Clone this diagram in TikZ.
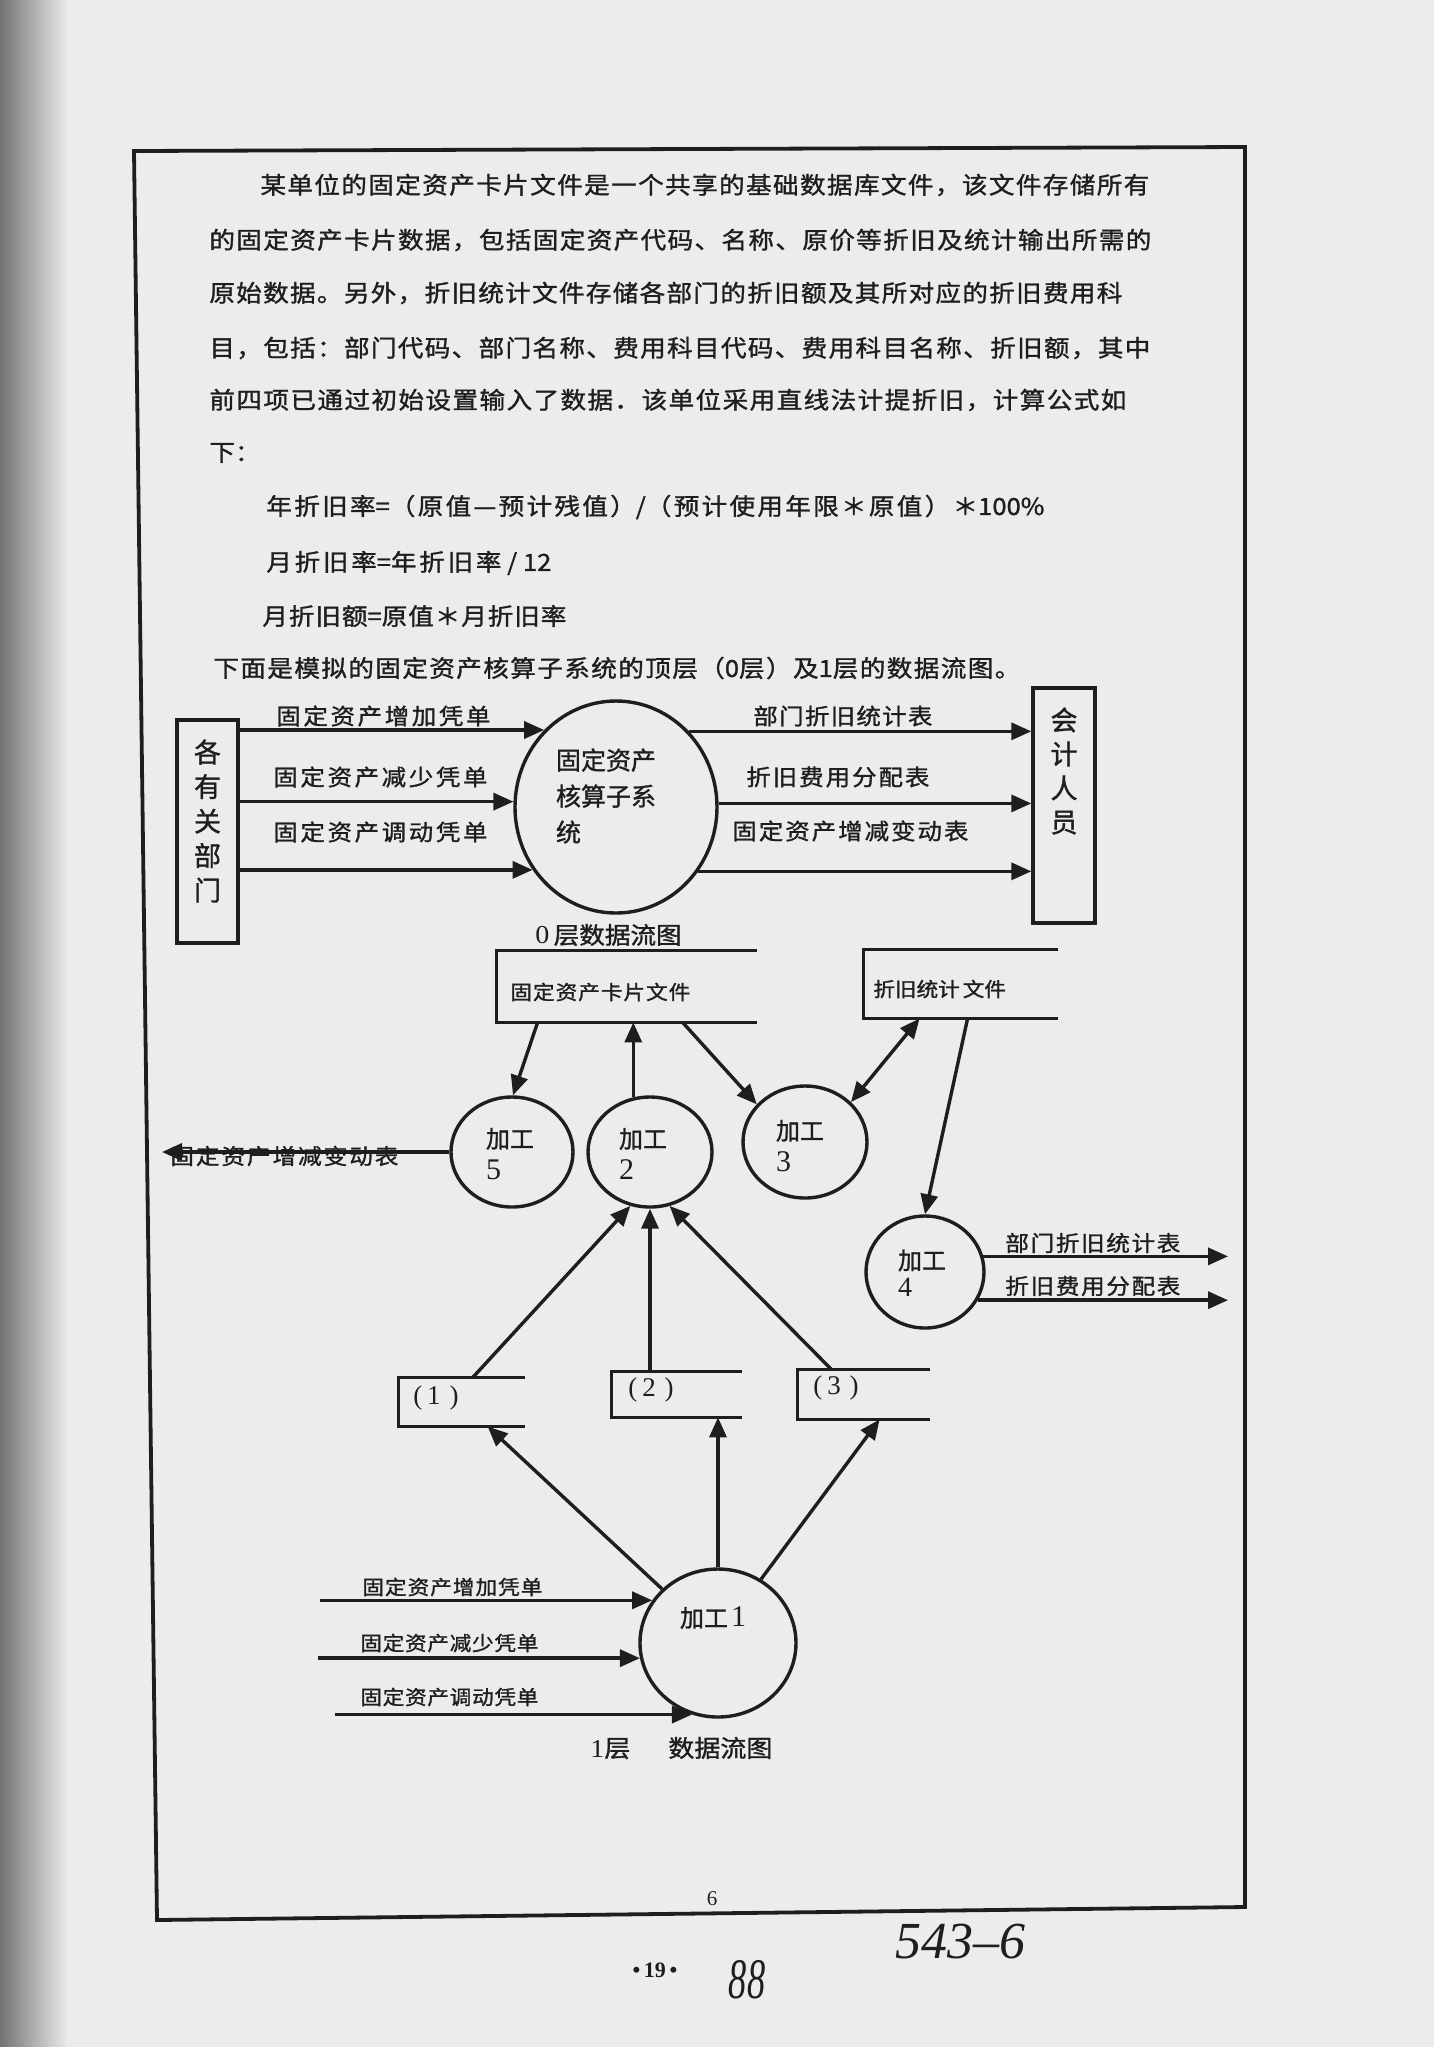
\documentclass[tikz,border=0pt]{standalone}
\usepackage{fontspec}
\usepackage{graphicx}
\setmainfont{Noto Sans CJK SC}[FakeBold=1.2]
\newfontfamily\serifd{Liberation Serif}
\usetikzlibrary{arrows.meta,shapes.geometric,calc}

% stretchable glue between CJK characters, used to justify lines
\chardef\CJKcls=9
\newcount\cjkc
\cjkc="4E00
\loop\XeTeXcharclass\cjkc=\CJKcls \advance\cjkc by 1 \ifnum\cjkc<"A000 \repeat
\cjkc="3000
\loop\XeTeXcharclass\cjkc=\CJKcls \advance\cjkc by 1 \ifnum\cjkc<"3040 \repeat
\cjkc="FF00
\loop\XeTeXcharclass\cjkc=\CJKcls \advance\cjkc by 1 \ifnum\cjkc<"FF60 \repeat
\XeTeXcharclass"2014=\CJKcls
\XeTeXinterchartoks\CJKcls\CJKcls={\hskip 0pt plus 1fil minus 1fil\relax}
\XeTeXinterchartokenstate=1

\definecolor{ink}{RGB}{30,30,30}
\definecolor{paper}{RGB}{236,236,234}
\definecolor{shadow}{RGB}{115,115,115}
\newcommand\fs[1]{\fontsize{#1}{#1}\selectfont}
\newcommand\sq[1]{\scalebox{1}[0.92]{#1}}
\newcommand\jl[2]{\sq{\makebox[#1][s]{#2}}}

\begin{document}
\begin{tikzpicture}[x=0.5pt,y=-0.5pt,
  txt/.style={inner sep=0pt, text=ink, anchor=west},
  body/.style={txt, font=\fs{12.8pt}},
  labA/.style={txt, font=\fs{12.2pt}},
  labB/.style={txt, font=\fs{10.8pt}},
  labC/.style={txt, font=\fs{11.8pt}},
  arr/.style={draw=ink, line width=1.7pt, -{Triangle[length=10pt,width=8.5pt]}},
  dbl/.style={draw=ink, line width=1.7pt, {Triangle[length=10pt,width=8.5pt]}-{Triangle[length=10pt,width=8.5pt]}},
  extbox/.style={draw=ink, line width=1.7pt, rectangle, inner sep=0pt},
  proc/.style={draw=ink, line width=1.7pt, ellipse, inner sep=0pt},
  store/.style={rectangle, inner sep=0pt},
  openside/.style={draw=ink, line width=1.7pt},
  ptext/.style={txt, anchor=center, align=left, font=\fontsize{12pt}{16pt}\selectfont},
  numbox/.style={txt, anchor=center, font=\serifd\fs{13.5pt}},
]
\useasboundingbox (0,0) rectangle (1434,2047);
\fill[paper] (0,0) rectangle (1434,2047);
\shade[left color=shadow, right color=paper] (0,0) rectangle (68,2047);

% page frame
\draw[ink, line width=1.9pt] (134,151) -- (1245,147) -- (1245,1907) -- (157,1920) -- cycle;

% ---------- text ----------
\node[body] (l1) at (260,185) {\jl{444.5pt}{某单位的固定资产卡片文件是一个共享的基础数据库文件，该文件存储所有}};
\node[body] (l2) at (209,240) {\jl{471pt}{的固定资产卡片数据，包括固定资产代码、名称、原价等折旧及统计输出所需的}};
\node[body] (l3) at (209,293) {\jl{456.5pt}{原始数据。另外，折旧统计文件存储各部门的折旧额及其所对应的折旧费用科}};
\node[body] (l4) at (209,348) {\jl{470.5pt}{目，包括：部门代码、部门名称、费用科目代码、费用科目名称、折旧额，其中}};
\node[body] (l5) at (209,400) {\jl{458.5pt}{前四项已通过初始设置输入了数据．该单位采用直线法计提折旧，计算公式如}};
\node[body] (l6) at (209,453) {\sq{下：}};
\node[body] (l7) at (266,507) {\jl{389pt}{年折旧率=（原值—预计残值）/（预计使用年限＊原值）＊100\%}};
\node[body] (l8) at (266,563) {\jl{142.5pt}{月折旧率=年折旧率 / 12}};
\node[body] (l9) at (262,616) {\jl{152pt}{月折旧额=原值＊月折旧率}};
\node[body] (l10) at (213,668) {\jl{403.5pt}{下面是模拟的固定资产核算子系统的顶层（0层）及1层的数据流图。}};

% ---------- level 0 data flow diagram ----------
\node[extbox, minimum width=30.5pt, minimum height=111.5pt] (dept) at (207.5,831.5) {};
\node[txt, anchor=center, align=center, font=\fontsize{13.5pt}{17.25pt}\selectfont] (deptt) at (207.5,821) {各\\有\\关\\部\\门};
\node[extbox, minimum width=31pt, minimum height=117.5pt] (acct) at (1064,805.5) {};
\node[txt, anchor=center, align=center, font=\fontsize{13.5pt}{17pt}\selectfont] (acctt) at (1064,771) {会\\计\\人\\员};
\node[proc, minimum width=101pt, minimum height=106pt] (sys) at (616,807) {};
\node[txt, anchor=center, align=left, font=\fontsize{12.5pt}{18pt}\selectfont] (syst) at (606,796) {固定资产\\核算子系\\统};

\draw[arr] (dept.east |- sys.133.6) -- (sys.133.6);
\draw[arr] (dept.east |- sys.177.2) -- (sys.177.2);
\draw[arr] (dept.east |- sys.217.8) -- (sys.217.8);
\draw[arr] (sys.46.4) -- (sys.46.4 -| acct.west);
\draw[arr] (sys.2.8) -- (sys.2.8 -| acct.west);
\draw[arr] (sys.322.2) -- (sys.322.2 -| acct.west);

\node[labA] (li1) at (276,716) {\jl{107pt}{固定资产增加凭单}};
\node[labA] (li2) at (273,777) {\jl{107pt}{固定资产减少凭单}};
\node[labA] (li3) at (273,832) {\jl{107pt}{固定资产调动凭单}};
\node[labA] (lo1) at (753,716) {\jl{89.5pt}{部门折旧统计表}};
\node[labA] (lo2) at (746,777) {\jl{91.5pt}{折旧费用分配表}};
\node[labA] (lo3) at (732,831) {\jl{118pt}{固定资产增减变动表}};
\node[txt, font=\fs{12.8pt}] (cap0) at (535,935) {\sq{{\serifd\fs{14pt}0}\,层数据流图}};

% ---------- level 1 data flow diagram ----------
% data stores (open on the right)
\node[store, minimum width=130pt, minimum height=35.5pt] (cardfile) at (627,986.5) {};
\draw[openside] (cardfile.north east) -- (cardfile.north west) -- (cardfile.south west) -- (cardfile.south east);
\node[labB] (cardt) at (510,992) {\jl{90pt}{固定资产卡片文件}};
\node[store, minimum width=97pt, minimum height=34pt] (depfile) at (961,984) {};
\draw[openside] (depfile.north east) -- (depfile.north west) -- (depfile.south west) -- (depfile.south east);
\node[labB] (dept2) at (873,989) {\sq{折旧统计\hspace{1.5pt}文件}};

\node[store, minimum width=63pt, minimum height=24pt] (box1) at (462,1402) {};
\draw[openside] (box1.north east) -- (box1.north west) -- (box1.south west) -- (box1.south east);
\node[numbox] (b1t) at (436,1398) {(\hspace{2.5pt}1\hspace{4.5pt})};
\node[store, minimum width=65pt, minimum height=22.5pt] (box2) at (677,1394.5) {};
\draw[openside] (box2.north east) -- (box2.north west) -- (box2.south west) -- (box2.south east);
\node[numbox] (b2t) at (651,1390) {(\hspace{2.5pt}2\hspace{4.5pt})};
\node[store, minimum width=66pt, minimum height=24.5pt] (box3) at (864,1394.5) {};
\draw[openside] (box3.north east) -- (box3.north west) -- (box3.south west) -- (box3.south east);
\node[numbox] (b3t) at (836,1388) {(\hspace{2.5pt}3\hspace{4.5pt})};

% processes
\node[proc, minimum width=61pt, minimum height=55pt] (p5) at (512,1152) {};
\node[ptext] (p5t) at (510,1154) {加工\\{\serifd\fs{15pt}5}};
\node[proc, minimum width=62pt, minimum height=55pt] (p2) at (650,1152) {};
\node[ptext] (p2t) at (643,1154) {加工\\{\serifd\fs{15pt}2}};
\node[proc, minimum width=62pt, minimum height=56pt] (p3) at (805,1142) {};
\node[ptext] (p3t) at (800,1146) {加工\\{\serifd\fs{15pt}3}};
\node[proc, minimum width=59pt, minimum height=56pt] (p4) at (925,1272) {};
\node[txt, anchor=center, align=left, font=\fontsize{12pt}{13.5pt}\selectfont] (p4t) at (922,1273) {加工\\{\serifd\fs{14pt}4}};
\node[proc, minimum width=78pt, minimum height=74pt] (p1) at (718,1643) {};
\node[txt, anchor=center, font=\fs{12pt}] (p1t) at (713,1618) {加工\hspace{1.5pt}{\serifd\fs{15pt}1}};

% flows between stores and processes
\draw[arr] ($(cardfile.south west)+(41,0)$) -- (p5.89);
\draw[arr] (p2.107.8) -- (p2.107.8 |- cardfile.south);
\draw[arr] ($(cardfile.south west)+(186,0)$) -- (p3.142);
\draw[dbl] ($(depfile.south west)+(56,0)$) -- (p3.41.8);
\draw[arr] ($(depfile.south west)+(104,0)$) -- (p4.north);

\coordinate (outleft) at (162,1152);
\draw[arr] (p5.west) -- (p5.west -| outleft);
\node[labC] (plt) at (170,1156) {\jl{114pt}{固定资产增减变动表}};

\coordinate (outright) at (1228,1256);
\draw[arr] (p4.15.8) -- (p4.15.8 -| outright);
\draw[arr] (p4.332.4) -- (p4.332.4 -| outright);
\node[labC] (po1) at (1005,1243) {\jl{87.5pt}{部门折旧统计表}};
\node[labC] (po2) at (1005,1286) {\jl{87.5pt}{折旧费用分配表}};

\draw[arr] ($(box1.north west)+(74,0)$) -- (p2.250);
\draw[arr] (p2.south |- box2.north) -- (p2.south);
\draw[arr] ($(box3.north west)+(34,0)$) -- (p2.290.7);

\draw[arr] (p1.136.4) -- ($(box1.south west)+(89,0)$);
\draw[arr] (p1.north) -- (p1.north |- box2.south);
\draw[arr] (p1.56.5) -- ($(box3.south west)+(82,0)$);

\coordinate (ina) at (320,1602);
\coordinate (inb) at (318,1658);
\coordinate (inc) at (335,1713);
\draw[arr] (p1.147.7 -| ina) -- (p1.147.7);
\draw[arr] (p1.191.1 -| inb) -- (p1.191.1);
\draw[arr] (p1.250.1 -| inc) -- (p1.250.1);
\node[labB] (ii1) at (362,1587) {\jl{90pt}{固定资产增加凭单}};
\node[labB] (ii2) at (360,1643) {\jl{89pt}{固定资产减少凭单}};
\node[labB] (ii3) at (360,1697) {\jl{89pt}{固定资产调动凭单}};
\node[txt, font=\fs{13pt}] (cap1) at (590,1748) {\sq{{\serifd\fs{14pt}1}层\hspace{19pt}数据流图}};

% ---------- page numbers and notes ----------
\node[txt, anchor=center, font=\serifd\fs{10.5pt}] (pg) at (712,1899) {6};
\node[txt, anchor=center, font=\serifd\bfseries\fs{11pt}] (pg2) at (655,1970) {•\,19\,•};
\node[txt, anchor=center, font=\serifd\itshape\fs{26pt}] (hw1) at (747,1980) {\scalebox{0.7}[1.1]{88}};
\node[txt, font=\serifd\itshape\fs{26pt}] (hw2) at (895,1942) {543–6};
\end{tikzpicture}
\end{document}
